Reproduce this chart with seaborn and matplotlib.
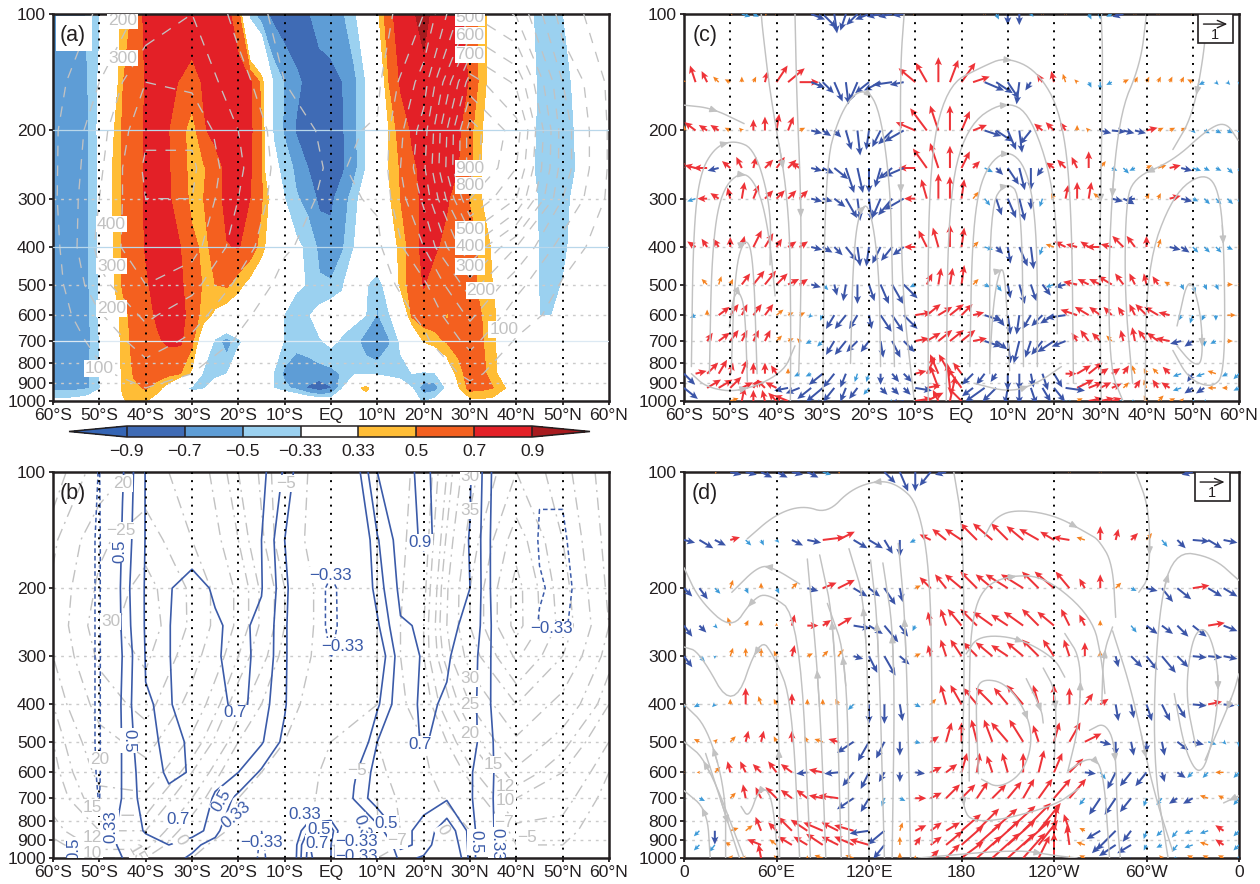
# -*- coding: utf-8 -*-
import numpy as np
import matplotlib
matplotlib.use('Agg')
import matplotlib.pyplot as plt
from matplotlib.patches import Rectangle
import seaborn as sns

lat5 = np.arange(-60, 61, 5)
lat10 = np.arange(-60, 61, 10)
lat25 = np.arange(-60, 60.1, 2.5)
lon10 = np.arange(0, 361, 10)
plev = [100, 150, 200, 250, 300, 400, 500, 600, 700, 850, 925, 1000]

# =============================================================================
# panel a: correlation (hundredths), 2.5 deg
# =============================================================================
a_100 = [-60,-60,-58,-48,-35,10,38,55,75,80, 82,82,82,82,80,76,58,-40,-62,-75,
         -82,-82,-72,-62,-58,-52,-38,-10,28,65, 78,88,95,85,80,75,60,45,15,0,
         0,-25,-42,-42,-34,-20,-10,-5,0]
a_150 = [-60,-60,-58,-50,-30,5,49,60,71,76, 73,69,62,72,78,82,80,74,45,-34,
         -52,-66,-75,-80,-78,-70,-55,-33,5,50, 72,80,85,85,85,80,68,42,20,5,
         0,-20,-38,-42,-42,-30,-15,-5,0]
a_200 = [-60,-60,-58,-52,-28,25,52,62,72,76, 70,58,40,68,75,78,78,74,52,-34,
         -53,-72,-80,-82,-82,-72,-55,-33,-5,33, 60,72,82,86,85,73,55,34,15,5,
         -5,-22,-38,-42,-43,-33,-15,-5,0]
a_250 = [-60,-60,-58,-52,-30,30,52,62,72,76, 71,60,42,47,62,74,78,73,52,-28,
         -38,-55,-70,-78,-80,-73,-56,-33,-5,33, 52,67,74,80,78,70,56,33,15,5,
         -5,-25,-40,-44,-45,-35,-18,-5,0]
a_300 = [-60,-60,-58,-52,-30,30,52,62,72,75, 72,60,45,50,62,75,74,70,52,20,
         -33,-48,-56,-75,-74,-60,-40,-20,0,30, 50,65,73,78,72,62,49,33,12,0,
         -8,-28,-34,-42,-43,-28,-12,-5,0]
a_400 = [-60,-60,-56,-51,-30,28,52,62,71,76, 73,70,55,46,55,69,71,62,42,10,
         -10,-28,-38,-54,-62,-52,-33,-15,0,20, 38,60,76,72,65,60,55,48,28,10,
         -5,-25,-34,-42,-42,-22,-8,0,0]
a_500 = [-58,-60,-58,-52,-32,25,52,62,68,75, 76,73,60,48,50,53,40,25,5,-10,
         -20,-30,-34,-48,-48,-35,-15,-30,-48,-15, 40,58,71,62,58,56,54,46,32,10,
         -5,-20,-34,-40,-32,-10,0,0,0]
a_600 = [-58,-60,-58,-54,-30,10,42,58,65,72, 76,76,62,42,28,18,10,0,-5,-20,
         -34,-42,-35,-25,-15,-25,-28,-33,-52,-36, -10,55,62,58,49,55,58,50,38,15,
         0,-15,-33,-34,-20,0,0,0,0]
a_700 = [-58,-60,-58,-55,-33,5,40,56,62,68, 73,73,55,10,-40,-60,-38,-25,-15,-25,
         -34,-42,-40,-35,-28,-36,-42,-60,-68,-52, -30,-10,35,45,52,58,60,52,38,12,
         0,0,0,0,0,0,0,0,0]
a_850 = [-58,-60,-58,-52,-33,10,36,52,60,58, 55,50,28,-42,-42,-34,-10,0,-15,-33,
         -55,-66,-62,-58,-56,-48,-38,-36,-38,-38, -38,-33,-38,-35,10,42,60,55,42,15,
         0,0,0,0,0,0,0,0,0]
a_925 = [-55,-55,-55,-52,-36,5,36,46,52,42, 20,-25,-40,-36,-15,-5,0,-5,-20,-33,
         -45,-55,-72,-84,-72,-35,20,40,15,-15, -25,-33,-60,-58,-30,30,58,55,50,34,
         5,0,0,0,0,0,0,0,0]
a_1000 = [-28,-28,-25,-20,-10,10,30,40,34,20, 5,0,-5,-5,0,0,0,0,0,0,
          0,-5,-10,-15,-20,-10,5,15,5,0, -10,-25,-36,-25,-5,15,25,28,25,10,
          0,0,0,0,0,0,0,0,0]

# grey field in a, 10 deg
ag_100 = [40,110,230,300,170,60,30,50,200,600,490,150,40]
ag_150 = [60,200,400,380,240,100,60,80,350,950,780,300,80]
ag_200 = [80,260,480,480,300,140,80,110,450,1150,950,350,90]
ag_250 = [80,280,520,520,320,150,90,120,480,1150,900,350,90]
ag_300 = [80,300,500,500,300,140,80,110,420,1000,800,300,80]
ag_400 = [60,330,480,440,250,110,60,80,300,700,400,150,50]
ag_500 = [50,270,400,330,180,70,30,50,180,450,230,90,30]
ag_600 = [40,190,320,240,120,50,20,30,120,320,150,60,20]
ag_700 = [30,130,250,180,90,30,10,20,80,230,90,30,10]
ag_850 = [10,80,150,100,50,20,5,10,40,120,50,10,5]
ag_925 = [5,50,100,70,30,10,0,5,20,80,30,5,0]
ag_1000 = [0,20,50,30,10,5,0,0,10,30,10,0,0]

# =============================================================================
# panel b: correlation (hundredths), 5 deg
# =============================================================================
b_100 = [-10,-15,-34,31,71,80,80,82,82,76,47,10,0,20,70,87,92,85,72,30,10,-30,-30,-10,0]
b_150 = [-5,-20,-36,36,71,76,78,80,80,70,33,5,0,0,48,80,93,85,69,28,5,-36,-36,-20,0]
b_200 = [-5,-20,-36,40,72,71,64,72,76,71,38,5,-45,5,40,75,78,77,70,28,0,-30,-42,-20,0]
b_250 = [-5,-20,-36,38,72,71,55,68,74,66,36,5,-45,0,30,68,72,74,66,30,0,-36,-38,-15,0]
b_300 = [-5,-20,-36,34,71,71,55,68,76,65,36,5,-34,0,18,60,72,72,60,30,0,-20,-20,-10,0]
b_400 = [-5,-20,-36,38,69,72,58,60,78,58,35,5,0,0,30,62,73,68,58,30,0,-10,-10,-5,0]
b_500 = [-5,-20,-36,36,65,74,68,58,58,52,28,0,0,5,50,60,72,62,58,33,0,0,0,0,0]
b_600 = [-5,-15,-36,36,60,73,69,58,50,30,10,0,-10,30,58,60,58,55,52,34,0,0,0,0,0]
b_700 = [-5,-15,-34,36,58,66,70,47,28,10,-10,-15,-20,36,60,58,55,52,52,33,0,0,0,0,0]
b_850 = [-5,20,28,35,52,62,60,40,5,-33,-10,50,60,-30,25,55,45,20,55,34,5,0,0,0,0]
b_925 = [-5,30,30,34,42,50,38,25,-10,-36,-10,72,50,-36,-10,55,45,10,55,33,5,0,0,0,0]
b_1000 = [-5,55,30,33,35,40,30,10,-10,-38,-10,75,50,-40,-10,40,30,-5,55,34,5,0,0,0,0]

# grey field in b, 10 deg
bg_100 = [10,17,22,18,10,3,-3,-5,2,18,30,22,12]
bg_150 = [14,24,28,20,12,3,-4,-5,3,22,38,25,13]
bg_200 = [16,26,32,24,14,5,-3,-5,4,25,42,27,14]
bg_250 = [16,28,33,24,14,5,-3,-5,5,25,42,28,15]
bg_300 = [15,26,31,22,12,4,-3,-5,5,22,36,25,13]
bg_400 = [12,22,27,18,8,2,-4,-5,3,15,25,18,10]
bg_500 = [10,18,22,14,5,0,-5,-5,0,10,19,13,7]
bg_600 = [9,16,18,10,2,-2,-6,-6,-1,6,14,10,5]
bg_700 = [8,14,14,7,0,-3,-6,-7,-2,3,10,8,4]
bg_850 = [6,10,10,3,-1,-4,-6,-7,-3,0,6,6,3]
bg_925 = [4,8,8,1,-2,-4,-5,-7,-3,0,5,5,2]
bg_1000 = [2,5,5,0,-2,-3,-4,-5,-2,0,3,3,1]

# =============================================================================
# panel c: vectors (tenths of the unit arrow), 2.5 deg
# =============================================================================
c_100 = [(0,0),(0,0),(0,0),(0,0),(1,0),(3,-1),(2,-1),(1,1),(0,1),(0,0),
         (0,0),(5,-2),(5,-5),(1,-7),(-2,-6),(-4,-4),(-5,-2),(-5,-1),(-5,-1),(-4,-0.5),
         (-1,1),(0,2),(0,2),(0,2),(0,2),(0,2),(0,1),(1,-2),(0,-4),(0,-4),
         (1,-1),(0,1),(0,0),(0,1),(0,0),(1,-2),(0,-2),(-2,-1),(-4,-1),(0,1),
         (0,0),(0,1),(0,0),(0,0),(0,1),(0,1),(0,0),(0,0),(0,0)]
c_150 = [(-1,1),(-2,6),(-2,4),(-2,2),(-2,1),(0,2),(1,2),(1,4),(4,6),(6,5),
         (7,0),(5,-2),(4,-4),(3,-7),(1,-8),(-3,-7),(-5,-4),(-6,-3),(-7,-1),(-5,-1),
         (-6,5),(-4,7),(0,9),(3,8),(5,7),(6,2),(7,-3),(6,-4),(4,-6),(-1,-8),
         (-2,-3),(-2,3),(-1,4),(-1,3),(-1,1),(1,-2),(0,-3),(-2,-1),(2,1),(1,2),
         (1,2),(1,2),(1,2),(1,2),(-2,1),(-2,-1),(1,-1),(1,-1),(0,-1)]
c_200 = [(0,2),(-4,3),(-3,2),(-3,2),(-2,1),(-1,1),(0,4),(0,5),(1,6),(2,5),
         (2,1),(4,-1),(3,-2),(2.5,-2.5),(2,-7),(1,-9),(-1,-7),(-3,-6),(-5,-5),(-7,-4),
         (-7,3),(-6,8),(-3,9),(0,9),(3,7),(5,2),(6,-2),(6,-4),(3,-7),(1,-8),
         (-4,-5),(-3,2.5),(-3,3),(-2,3),(0,2),(-1,1),(4,-1),(5,-0.5),(4,-1),(4,-1),
         (4,1),(2,1),(2,1),(2,1),(1,-1),(2,-1),(2,-1),(2,-1),(1,-1)]
c_250 = [(-2,3),(-4,1),(-5,0),(-4,-1),(-3,2.5),(-2,4),(1,4),(3,3),(3,4),(3,3),
         (-3,2),(4,-1),(4,-2),(5,-4),(3,-9),(2,-9),(0,-9),(-2,-7),(-5,-4),(-7,-3),
         (-6,0),(-5,7),(-3,9),(0,8),(3,6),(2.5,2.5),(3,-1.5),(2.5,-2.5),(4,-6),(2,-8),
         (0,-8),(-2,-3),(-3,2),(-3,3),(-2,4),(0,6),(2,2.5),(2,-1),(2,-2),(-2,-1),
         (2,1),(3,1),(4,1),(4,-1),(3,-1),(2,-1),(2,-1),(2,-2),(1,-2)]
c_300 = [(-4,-1),(-3,-1),(-3.5,0),(-3,2),(-1,4),(1,6),(2,5),(3,3),(3,3),(3,3),
         (3,3),(4,-1),(3.5,-1),(4,-3),(4,-7),(1,-8),(1,-8),(-3,-7),(-5,-6),(-7,-4),
         (-4,0),(-2,7),(0,9),(0,8),(1,7),(2,2.5),(2,-2.5),(2,-6),(3,-7),(2,-8),
         (0,-4),(-1,-3),(-1,2),(1,5),(0,6),(1,6),(-2.5,2),(4,-1),(4,-2),(-3.5,-0.5),
         (1,2),(1,2),(4,1),(4,-1),(2,-1),(2,-2),(2,-2),(2,-2),(1,-2)]
c_400 = [(-3,-2),(-3,2),(-2,3),(-2,3),(0,3.6),(1,4),(3,6),(3,5),(2,3),(3,2),
         (3,2),(4,-1),(3.5,-2),(3,-3),(4,-5),(1,-7),(-1,-7),(-3,-6),(-4,-5),(-4,-3),
         (-4,0),(-3,6),(-2,7),(0,8),(1,7),(2,2),(3,-1),(2.5,-2.5),(1,-6),(3,-7),
         (1,-8),(-1,-3),(-3,1),(-4,2),(-4,1),(-3,2),(-5,0),(-4,1),(-4,4),(-3,4),
         (0,4),(1,3),(4,-1),(3,-2),(2,-2),(2,-2),(2,-2),(2,-1),(1,0)]
c_500 = [(-3.5,-1),(0,0),(-2,2),(1,3),(1,2),(3,4),(4,5),(4,5),(4,4),(4,2),
         (3,2),(3.5,-1),(2,-2),(1,-4),(-1,-6),(0,-7),(2,-6),(3,-7),(4,-7),(5,-5),
         (-2,-1),(2,4),(1,6),(1,6),(1,7),(2,2),(2,-1),(2,-2.5),(1,-5),(2,-7),
         (2,-6),(3,-4),(-3,-1),(-4,-1),(-5,1),(-4,2),(-4,2),(-5,3),(-3,4),(-2,4),
         (-1,4),(-2,3),(-2,1),(1,-2),(1,-3),(1,-2),(1,-2),(2,0),(1,0)]
c_600 = [(0,0),(-2,-1),(0,2),(4,3),(3,4),(2,4),(3,4),(3,4),(2.5,2),(2,1),
         (2,1),(-1,-1),(-1,-2),(-3,-5),(-4,-5),(-3,-5),(1,-5),(4,-6),(4,-6),(5,-5),
         (6,1),(5,4),(5,3),(5,4),(4,4),(4,1),(6,-2),(3,-4),(1,-7),(-1,-7),
         (-3,-5),(-4,-4),(-5,-3),(-7,-1),(-6,2),(-5,3),(-4,3),(-3,3),(-2,3),(-2,4),
         (-4,4),(-5,3),(-4,1),(-1,-2),(-1,-3),(-1,-2),(0,-2),(3,0),(1,0)]
c_700 = [(-2,0),(0,0),(2,3),(4,3),(3,4),(2,4),(2,4),(2,4),(2,2),(2,1),
         (-1,1),(-2,-1),(-2,-2),(-3,-5),(-4,-5),(-4,-4),(-3,-4),(1,-6),(3,-6),(4,-4),
         (5,1),(5,3),(5,4),(5,4),(5,4),(5,1),(6,-2),(4,-3),(1,-8),(-2,-8),
         (-2,-6),(-4,-5),(-6,-4),(-5,-2),(-2,3),(-3,4),(-3,3),(-2,2),(-1,4),(-1,5),
         (-3,4),(-4,3),(-5,1),(-4,-1),(-3,-2),(0,-2),(-2,-1),(2,0),(2,0)]
c_850 = [(4,-4),(4,1),(4,4),(3,5),(1,4),(2,5),(0,4),(0,4),(-2,3),(0,2),
         (-2,-1),(-2,-1),(-5,-4),(-4,-5),(-2,-5),(-1,-3),(-1,-3),(0,-4),(2.5,-3),(3,-3),
         (4,1),(3,6),(-3,7),(-4,7),(-3,4),(-4,-4),(-3,-4),(-2,-3),(0,-6),(0,-6),
         (1,-5),(2,-6),(3,-5),(4,0),(5,3),(5,4),(3,2),(3,2),(2,3),(-1,3),
         (-1,2),(-2,2),(-2.5,2.5),(-3,-1),(-2,-3),(-3,-1),(-3,1),(-2,-1),(-2,-2)]
c_925 = [(5,-4),(0,0),(5,3),(5,3),(4,4),(4,2),(2,3),(-3,3),(-4,2),(-5,-1),
         (-5,-2),(-5,-4),(-6,-5),(-4,-5),(-2,-5),(-3,-4),(-2,-2.5),(2.5,-2.5),(2.5,-2.5),(2.5,-2.5),
         (6,-1),(5,1),(-3,8),(-1,9),(-5,7),(-4,-3),(-7,-5),(-5,-5),(-1,-6),(0,-6),
         (2,-6),(3,-5),(4,-5),(7,-1),(6,3),(5,2),(4,2),(3.5,1.5),(2,2),(2,3),
         (-1,3),(-2,3),(-3,2),(-3,-1),(-3,-2),(-3,-2),(-3,0),(-2,0),(-2,-1)]
c_1000 = [(0,0),(0,0),(0,0),(0,0),(3,1),(1,5),(0,4),(-1,4),(-3,3),(-5,2),
          (-5,-2),(-5,-2),(-3,-2),(-1,-4),(-1,-5),(0,-3),(1,-2),(2,-3),(-1,-1),(-5,-1),
          (6,1),(6,3),(-2,4),(2,9),(-5,5),(-6,-6),(-5,-6),(-3,-5),(-1,-5),(0,-5),
          (2,-4),(2,-4),(2,-4),(3,-1),(2,1),(5,1),(5,1),(3.5,1),(-2,-1),(-2,-1),
          (-1,2),(2,2),(2,1),(1,1),(1,-1),(1,-1),(0,0),(0,0),(0,0)]

# =============================================================================
# panel d: vectors, 10 deg
# =============================================================================
d_100 = [(0,0),(0,0),(1,1),(4,-1),(4,-1),(4,-2),(4,-2),(4,-1),(4,-2),(3,-1),
         (1,1),(0,0),(0,0),(4,-4),(3,-7),(0,-7),(-4,-5),(-4,-1),(0,0),(0,0),
         (0,0),(0,0),(0,0),(0,0),(0,0),(0,1),(0,0),(0,1),(0,0),(0,0),
         (0,0),(0,0),(0,0),(-4,-1),(0,0),(0,0),(0,0)]
d_150 = [(4,-1),(5,-3),(4,-2),(3.5,1),(2,-2),(1,-2),(1,-1),(4,-2),(5,-1),(8,1),
         (6,3),(5,-3),(5,-3),(3,-5),(0,-6),(-2,-1),(-4,2),(-5,4),(-6,4),(-6,6),
         (-7,6),(-6,6),(-6,5),(-7,4),(-5,3),(-6,1),(-3,1),(0,5),(1,4),(2.5,2.5),
         (2,2.5),(2,-2.5),(3,-3),(6,-0.5),(5,-3),(5,-1),(4,-1)]
d_200 = [(3,-3),(3,-4),(2,-2),(1,3),(1,-2),(0,2),(1,-2),(2,2),(4,-1),(5,2),
         (6,3),(5,-3),(4,-3),(4,-6),(1,-5),(2,1),(-4,4),(-4,5),(-6,5),(-6,6),
         (-6,5),(-8,5),(-8,5),(-6,6),(-7,6),(-5,6),(-2,3.5),(0,5),(2,2),(2,-1),
         (4,-1),(4,-5),(5,-4),(6,1),(5,-3),(5,-3),(4,-3)]
d_250 = [(3,-4),(2.5,-2.5),(1,-1),(-1,3),(1,2),(0,2),(0,1),(1,4),(4,0),(3,2),
         (5,3),(6,-1),(5,-3),(5,-6),(3,-4),(-1,-2),(-1,5),(-2,6),(-5,6),(-6,6),
         (-7,5),(-6,4),(-7,5),(-6,6),(-6,5),(-3,6),(-2,4),(0,2),(0,0),(2,-2.5),
         (4,-3),(4,-3),(4,-4),(5,-4),(6,1),(5,-2),(4,-2)]
d_300 = [(3,-4),(2,-2),(0,-1),(1,3),(0,3),(0,3),(-1,2),(1,4),(2,1),(2,2),
         (2,2.5),(3.5,-1),(3,-6),(4,-7),(3.5,-3),(2,1),(-1,4),(-2,6),(-4,6),(-5,5),
         (-6,5),(-6,4),(-6,5),(-6,6),(-4,6),(-2,6),(0,5),(0,2),(1,-4),(4,-4),
         (4,-5),(5,-6),(4,-4),(5,-0.5),(5,-0.5),(5,-1),(4,-2)]
d_400 = [(-1,-2),(-2,-1),(-1,-1),(0,2),(0,6),(-1,3),(-1,2),(0,4),(0,2),(0,2),
         (-1,2),(-2,-2),(0,-7),(0,-7),(1,-6),(2,-1),(2,2),(-2,7),(-4,7),(-5,6),
         (-6,6),(-5,6),(-6,7),(-2,7),(0,7),(0,6),(3,4),(3,2),(1,-6),(1,-5),
         (2,-6),(3,-6),(3,-5),(5,-0.5),(5,1),(4,-0.5),(1,-1)]
d_500 = [(0,0),(-2,1),(1,1),(2,2),(1,4),(1,4),(-1,2),(0,4),(-1,2),(-3,1),
         (-3.5,1),(-6,-4),(-4,-7),(-3,-6),(0,-5),(2,-0.5),(3,2),(2,7),(0,7),(-2,8),
         (-3,8),(-6,7),(-5,8),(-2,6),(2,7),(4,7),(6,3),(4,-1),(0,-5),(1,-5),
         (0,-4),(1,-5),(4,-3),(4,-1),(3,-1),(1,-1),(0,-2)]
d_600 = [(-1,0),(-1,0),(2,2),(-1,4),(-2,4),(-3,3),(-3,4),(-4,3),(-4,-0.5),(-5,1),
         (-5,-0.5),(-4,-5),(-3,-6),(-2,-3.5),(0,-3.5),(3.5,-0.5),(4,2),(4,3),(2,7),(1,7),
         (-2,6),(-2,7),(0,7),(2,8),(3,7),(5,5),(4,-0.5),(2,-2.5),(-3,-6),(-4,-5),
         (-4,-5),(1,-3.5),(3,-2),(-2,-2),(-2,-2),(-3,0),(-2,-2)]
d_700 = [(-2,-1),(2,-1),(0,0),(2,2),(-1,5),(-2,4),(-4,4),(-4,3),(-4,3),(-5,1),
         (-7,1),(-6,-4),(-3,-5),(-1,-3),(2,-1),(4,0),(4,2),(5,5),(5,5),(4,6),
         (5,5),(5,6),(4,7),(5,7),(6,7),(6,7),(-2,-2.5),(-4,-6),(-4,-6),(-4,-5),
         (-1,-3),(-2,-2.5),(-3,-2),(-3.5,-2),(-3,1),(-2,1),(-2,-2.5)]
d_850 = [(0,0),(-2,-2),(0,-5),(3,1),(2.5,2),(-2,5),(-3,3),(-5,5),(-6,4),(-7,3),
         (-6,3),(-7,2),(-7,-1),(-6,-5),(1,3),(4,2),(4,3),(5,3),(7,6),(8,8),
         (9,8),(10,9),(10,10),(8,10),(1,9),(-2,6),(-2,1),(-5,-3),(-7,-7),(-3,-4),
         (-1,-3),(-2,-2),(-2,-2.5),(-3,-1),(-3,-1),(-3,2),(-2,-2)]
d_925 = [(0,0),(-2,-2),(-2,-2.5),(-2,1),(0,0),(-5,2),(-2.5,2),(-5,3),(-5,3),(-6,4),
         (-6,3),(-7,3),(-7,2),(-4,-5),(0,3),(2,3),(4,3),(6,5),(8,7),(9,8),
         (10,9),(10,9),(10,9),(7,9),(0,8),(-1,7),(-3,1),(-3,-3),(-6,-4),(-5,-3),
         (-1,-2),(-2,-1),(-2,-2.5),(-3,-1),(-3,1),(-3,2),(-2,-2)]
d_1000 = [(0,0),(0,0),(0,0),(1,1),(-2,0),(-1,5),(-1,1),(0,0),(0,1),(-3,1),
          (0,0),(-3,1),(-6,-4),(0,0),(0,2),(0,1),(3,3),(5,5),(8,6),(9,8),
          (10,9),(10,9),(8,9),(4,8),(0,9),(0,1),(-2,1),(-2,-2),(-4,-4),(-4,-4),
          (-1,-2),(-1,1),(-2,-1),(-2,1),(-2,1),(-2,1),(-1,-1)]

# streamlines: (x values, pressure values)
c_lines = [
    ([-43.3,-43,-41.2,-37.3,-36.9,-37], [100,110,167,302,600,1000]),
    ([-36,-35.6,-34.7,-34.7,-35.2], [100,167,302,535,850]),
    ([-60,-54,-47], [172,175,192]),
    ([-58.4,-58,-56.6,-53.2,-49,-44.6,-41.2,-41.4], [815,370,258,220,212,224,315,445]),
    ([-54.5,-54,-52,-47.2,-43.7,-41.6,-40.3], [850,410,285,252,285,370,535]),
    ([-49.8,-49,-46.8,-45,-44.2], [850,458,375,420,850]),
    ([-50.2,-49.3,-48,-46.8,-46.3], [645,535,520,580,890]),
    ([-58.4,-55,-48,-38.6,-36], [850,925,950,850,720]),
    ([-30,-29.5,-26.5,-22.2,-18,-15.4,-15,-14.5], [1000,250,183,155,167,275,450,815]),
    ([-24,-23.5,-22.4,-20,-17.8,-17.5], [800,450,330,303,450,815]),
    ([-12.4,-13.2,-13.2,-12.8,-10.2], [100,135,250,535,1000]),
    ([-7.2,-7.2,-3.3,4.4,9.6,16.4,21.6,23.8,24.2], [1000,250,153,137,129,140,180,302,900]),
    ([-3.3,-2.9,1,9.2,15.2,20.7,20.7], [1000,302,195,167,182,302,670]),
    ([1.8,2.3,4.4,9.6,14.3,16.4,16.4], [815,370,258,222,250,370,815]),
    ([6.1,6.1,9.6,13,13.4], [850,315,270,295,815]),
    ([6.1,7,8.7,9.6,10.4], [790,535,440,505,835]),
    ([2.7,10.4,16.4,21.6], [900,950,900,815]),
    ([30.2,30.6,29.8,30.2], [100,135,450,1000]),
    ([40,38.7,34,31.9,31.9,34.9], [100,135,183,370,815,1000]),
    ([59.8,57.2,53.3,45.7,37.1,35.5,35.3,37], [212,190,198,240,265,315,535,900]),
    ([53,52.5,50,45.7], [100,125,183,224]),
    ([39.7,40,45.7,52.6,56,56.9,56.9,54.3,49.2,45.7], [1000,450,292,255,290,450,850,925,880,740]),
    ([46.6,49.2,51.8,52.2,50,46.6], [640,465,590,800,805,720]),
]
d_lines = [
    ([161,161,160,152,139,126,108,93,77,59,41], [918,457,187,121,108,105,111,128,122,129,149]),
    ([175,181,182,179,190,239,256], [100,139,375,738,822,738,661]),
    ([195,201,214,240,263,269,278,280], [147,132,125,129,145,150,172,238]),
    ([185,185,186,193,211,235,265,271,273], [632,375,252,200,185,187,238,307,375]),
    ([183,191,216,240,247], [296,265,268,302,340]),
    ([191,189,193,209,223,226,219,204,193], [605,374,343,352,424,508,608,660,625]),
    ([222,232,233], [343,414,447]),
    ([233,242,240], [322,375,580]),
    ([249,256,258,247], [595,457,307,262]),
    ([271,272,278], [398,295,252]),
    ([263,273,280,281,283], [467,445,510,800,1000]),
    ([249,263,272,276], [595,546,580,1000]),
    ([278,291,304,317], [258,375,660,960]),
    ([293,302,302,295], [100,125,187,205]),
    ([314,304,307,317,343,360], [1000,558,242,160,166,191]),
    ([332,325,330,340,348,343,335,325,318], [515,375,262,252,340,500,620,530,375]),
    ([360,356,338], [333,380,558]),
    ([360,350], [690,720]),
    ([82,75,54,44,31,10,0], [1000,237,205,215,257,215,177]),
    ([75,59,49,31], [195,178,174,205]),
    ([75,70,59,49,32,10,0], [1000,391,302,267,421,292,284]),
    ([27,27,15,0], [1000,670,457,400]),
    ([39,15,0], [1000,560,500]),
    ([14,36], [536,1000]),
    ([17,15,0], [1000,750,669]),
    ([61,57,49,42,37], [1000,680,655,790,735]),
    ([92,88,80], [1000,375,168]),
    ([102,98,88], [1000,252,164]),
    ([120,119,107], [1000,228,158]),
    ([130,126,121], [1000,252,169]),
    ([135,137,129], [1000,278,172]),
    ([147,144,139], [1000,252,153]),
    ([107,106,93], [1000,307,219]),
    ([62,62,60], [1000,600,300]),
    ([152,216,240,255], [1000,950,985,1000]),
]

lat_ticks = ['60°S','50°S','40°S','30°S','20°S','10°S','EQ','10°N','20°N','30°N','40°N','50°N','60°N']
lon_ticks = ['0','60°E','120°E','180','120°W','60°W','0']
p_ticks = [100,200,300,400,500,600,700,800,900,1000]
cf_levels = [-0.9,-0.7,-0.5,-0.33,0.33,0.5,0.7,0.9]
cf_labels = ['−0.9','−0.7','−0.5','−0.33','0.33','0.5','0.7','0.9']

# text on the contours: lat, hPa, text, rotation
a_labels = [(-45,104,'200',0),(-45,130,'300',0),(-47.4,349,'400',0),(-47.4,448,'300',0),
            (-47.4,576,'200',0),(-50,824,'100',0),(30,102,'500',0),(30,113.5,'600',0),
            (30,127,'700',0),(30,250,'900',0),(30,278,'800',0),(30,360,'500',0),
            (30,399,'400',0),(30,450,'300',0),(32.4,518,'200',0),(37.3,653,'100',0)]
b_grey = [(-45,107,'20',0),(-45.4,142,'−25',0),(-47.6,244,'30',0),(-50,555,'20',0),
          (-51.5,740,'15',0),(-51.5,885,'12',0),(-51.5,975,'10',0),(-9.7,107,'−5',0),
          (30,103,'30',0),(30,126,'35',0),(30,343,'30',0),(30,401,'25',0),(30,476,'20',0),
          (35,572,'15',0),(37.6,652,'12',0),(37.6,711,'10',0),(37.4,807,'−7',0),
          (42.3,885,'−5',0),(5.6,595,'−5',0),(14.3,899,'−7',0),(24.2,848,'0',-60),
          (-32.5,900,'0',-60),(-42,975,'15',-60)]
b_blue = [(-45.6,160,'0.5',90),(-43.7,496,'0.5',-90),(-33,795,'0.7',0),(-20.6,421,'0.7',0),
          (-23.6,709,'0.5',60),(-20.5,775,'0.33',40),(-15,909,'−0.33',0),(0,185,'−0.33',0),
          (2.4,283,'−0.33',0),(47.5,255,'−0.33',0),(19.3,152,'0.9',0),(19.3,508,'0.7',0),
          (12,815,'0.5',0),(7,850,'0.33',-70),(-5.7,770,'0.33',0),(-2.6,845,'0.5',0),
          (-3,918,'0.7',0),(5.6,905,'−0.33',0),(5.6,990,'−0.33',0),(31.2,909,'0.5',-90),
          (35.7,920,'0.33',-90),(-55.5,950,'0.5',90),(-47.6,830,'0.33',90)]

sns.set_theme(style='ticks')
plt.rcParams['font.family'] = ['Liberation Sans', 'DejaVu Sans']
txt = '#231F20'
grey = '#C2C2C2'
blue_line = '#3B5BA9'
fill_cols = ['#3565B5','#3F6BB5','#5E9DD6','#9BD1F0','#FFFFFF','#FFBD36','#F4601F','#E32027','#A81B1F']
red, orange, dark, light = sns.color_palette(['#EE3338','#F58220','#3B55A8','#3C9AD8'])


def panel(rect, xs, xlabels):
    ax = fig.add_axes([rect[0]/1260, 1-rect[3]/884, (rect[2]-rect[0])/1260, (rect[3]-rect[1])/884])
    ax.set_yscale('log')
    ax.set_ylim(1000, 100)
    ax.set_xlim(xs[0], xs[-1])
    ax.set_xticks(xs)
    ax.set_xticklabels(xlabels, fontsize=12.6, color=txt)
    ax.set_yticks(p_ticks)
    ax.set_yticklabels([str(p) for p in p_ticks], fontsize=12.6, color=txt)
    ax.minorticks_off()
    ax.tick_params(length=3, width=1.3, pad=2, color=txt)
    for s in ax.spines.values():
        s.set_linewidth(1.8)
        s.set_color(txt)
    return ax


def guides(ax, xs, ps, hc='#CBCBCB'):
    for x in xs:
        ax.plot([x, x], [100, 1000], color='black', lw=1.4, ls=(0, (1, 3.2)), zorder=6)
    for p in ps:
        ax.plot(ax.get_xlim(), [p, p], color=hc, lw=1.0, ls=(0, (2, 3.5)), zorder=2)


def put_labels(ax, items, color, size=12.6):
    for x, p, s, rot in items:
        ax.text(x, p, s, color=color, fontsize=size, rotation=rot, ha='center', va='center',
                zorder=7, clip_on=True,
                bbox=dict(facecolor='white', edgecolor='none', pad=0.6))


def smooth(xs, ps, n=3):
    # corner cutting so the traced lines do not look angular
    pts = np.column_stack([xs, np.log10(ps)])
    for _ in range(n):
        q = 0.75*pts[:-1] + 0.25*pts[1:]
        r = 0.25*pts[:-1] + 0.75*pts[1:]
        new = np.empty((2*len(q), 2))
        new[0::2] = q
        new[1::2] = r
        pts = np.vstack([pts[0], new, pts[-1]])
    return pts[:, 0], 10**pts[:, 1]


def streams(ax, lines):
    for xs, ps in lines:
        sx, sp = smooth(xs, ps)
        ax.plot(sx, sp, color=grey, lw=1.05, zorder=5)
        k = len(sx)//2
        ax.annotate('', xy=(sx[k+1], sp[k+1]), xytext=(sx[k-1], sp[k-1]),
                    arrowprops=dict(arrowstyle='-|>,head_length=0.38,head_width=0.16',
                                    color=grey, lw=1.0, shrinkA=0, shrinkB=0), zorder=5)


def vectors(ax, xs, rows):
    X, Y, U, V = [], [], [], []
    for p, row in zip(plev, rows):
        arr = np.array(row, dtype=float)
        X.extend(xs)
        Y.extend([p]*len(xs))
        U.extend(arr[:, 0])
        V.extend(arr[:, 1])
    X, Y, U, V = map(np.array, (X, Y, U, V))
    speed = np.hypot(U, V)
    groups = [((V >= 0) & (speed >= 3.5), red, 0.02), ((V >= 0) & (speed < 3.5) & (speed > 0), orange, 0.014),
              ((V < 0) & (speed >= 3.5), dark, 0.02), ((V < 0) & (speed < 3.5), light, 0.014)]
    for mask, col, w in groups:
        ax.quiver(X[mask], Y[mask], U[mask], V[mask], color=col, angles='uv', pivot='tail',
                  scale_units='inches', scale=36, units='inches', width=w,
                  headwidth=3.6, headlength=4, headaxislength=3.3, minshaft=0.8, minlength=0.2, zorder=4)


def key(ax, x0, x1):
    ax.add_patch(Rectangle((x0, 0.925), x1-x0, 0.075, transform=ax.transAxes, facecolor='white',
                           edgecolor=txt, lw=1.2, zorder=8))
    ax.annotate('', xy=(x1-0.01, 0.974), xytext=(x0+0.01, 0.974), xycoords='axes fraction',
                arrowprops=dict(arrowstyle='->,head_length=0.5,head_width=0.22', color=txt, lw=1, shrinkA=0, shrinkB=0),
                zorder=9)
    ax.text((x0+x1)/2, 0.945, '1', transform=ax.transAxes, ha='center', va='center', fontsize=10.5, color=txt, zorder=9)


fig = plt.figure(figsize=(12.6, 8.84), dpi=100, facecolor='white')

# --- (a)
ax_a = panel((53, 14, 609, 401), lat10, lat_ticks)
field_a = np.array([a_100,a_150,a_200,a_250,a_300,a_400,a_500,a_600,a_700,a_850,a_925,a_1000])/100
cf = ax_a.contourf(lat25, plev, field_a, levels=cf_levels, colors=fill_cols, extend='both', zorder=1)
grey_a = np.array([ag_100,ag_150,ag_200,ag_250,ag_300,ag_400,ag_500,ag_600,ag_700,ag_850,ag_925,ag_1000])
ax_a.contour(lat10, plev, grey_a, levels=np.arange(100, 1101, 100), colors=grey, linewidths=0.95,
             linestyles=[(0, (8, 7))], zorder=3)
guides(ax_a, lat10[1:-1], [300, 500, 600, 800, 900])
for p, c in [(200, '#B9D7EA'), (400, '#B9D7EA'), (700, '#DCE9F3')]:
    ax_a.plot(ax_a.get_xlim(), [p, p], color=c, lw=0.9, zorder=3)
put_labels(ax_a, a_labels, grey, 12.6)
ax_a.add_patch(Rectangle((0.006, 0.905), 0.065, 0.09, transform=ax_a.transAxes, facecolor='white', edgecolor='none', zorder=7))
ax_a.text(0.036, 0.945, '(a)', transform=ax_a.transAxes, ha='center', va='center', fontsize=15.5, color=txt, zorder=8)

cax = fig.add_axes([69/1260, 1-437/884, (590-69)/1260, 11/884])
cb = fig.colorbar(cf, cax=cax, orientation='horizontal', spacing='uniform', extendfrac=0.143,
                  drawedges=True, ticks=cf_levels)
cb.ax.set_xticklabels(cf_labels, fontsize=12.6, color=txt)
cb.ax.tick_params(length=0, pad=5)
cb.outline.set_linewidth(1.1)
cb.outline.set_edgecolor(txt)
cb.dividers.set_color(txt)
cb.dividers.set_linewidth(1.1)

# --- (b)
ax_b = panel((53, 472, 609, 858), lat10, lat_ticks)
grey_b = np.array([bg_100,bg_150,bg_200,bg_250,bg_300,bg_400,bg_500,bg_600,bg_700,bg_850,bg_925,bg_1000])
ax_b.contour(lat10, plev, grey_b, levels=[-7,-5,0,5,7,10,12,15,20,25,30,35,40], colors=grey, linewidths=1.0,
             linestyles=[(0, (9, 4, 1.5, 4))], zorder=2)
guides(ax_b, lat10[1:-1], [200, 300, 400, 500, 600, 700, 800, 900])
field_b = np.array([b_100,b_150,b_200,b_250,b_300,b_400,b_500,b_600,b_700,b_850,b_925,b_1000])/100
ax_b.contour(lat5, plev, field_b, levels=[-0.33], colors=blue_line, linewidths=1.1, linestyles=[(0, (3, 2))], zorder=4)
ax_b.contour(lat5, plev, field_b, levels=[0.33, 0.5, 0.7, 0.9], colors=blue_line, linewidths=1.2, linestyles='solid', zorder=4)
put_labels(ax_b, b_grey, grey, 12.4)
put_labels(ax_b, b_blue, blue_line, 12.2)
ax_b.text(0.036, 0.945, '(b)', transform=ax_b.transAxes, ha='center', va='center', fontsize=15.5, color=txt, zorder=8)

# --- (c)
ax_c = panel((684, 14, 1239, 401), lat10, lat_ticks)
guides(ax_c, lat10[1:-1], [200, 300, 400, 500, 600, 700, 800, 900])
vectors(ax_c, lat25, [c_100,c_150,c_200,c_250,c_300,c_400,c_500,c_600,c_700,c_850,c_925,c_1000])
streams(ax_c, c_lines)
key(ax_c, 0.926, 0.989)
ax_c.text(0.038, 0.945, '(c)', transform=ax_c.transAxes, ha='center', va='center', fontsize=15.5, color=txt, zorder=8)

# --- (d)
ax_d = panel((684, 472, 1239, 858), np.arange(0, 361, 60), lon_ticks)
guides(ax_d, [60, 120, 180, 240, 300], [200, 300, 400, 500, 600, 700, 800, 900])
vectors(ax_d, lon10, [d_100,d_150,d_200,d_250,d_300,d_400,d_500,d_600,d_700,d_850,d_925,d_1000])
streams(ax_d, d_lines)
key(ax_d, 0.92, 0.984)
ax_d.text(0.038, 0.945, '(d)', transform=ax_d.transAxes, ha='center', va='center', fontsize=15.5, color=txt, zorder=8)

fig.savefig('out.png', dpi=100, facecolor='white')
